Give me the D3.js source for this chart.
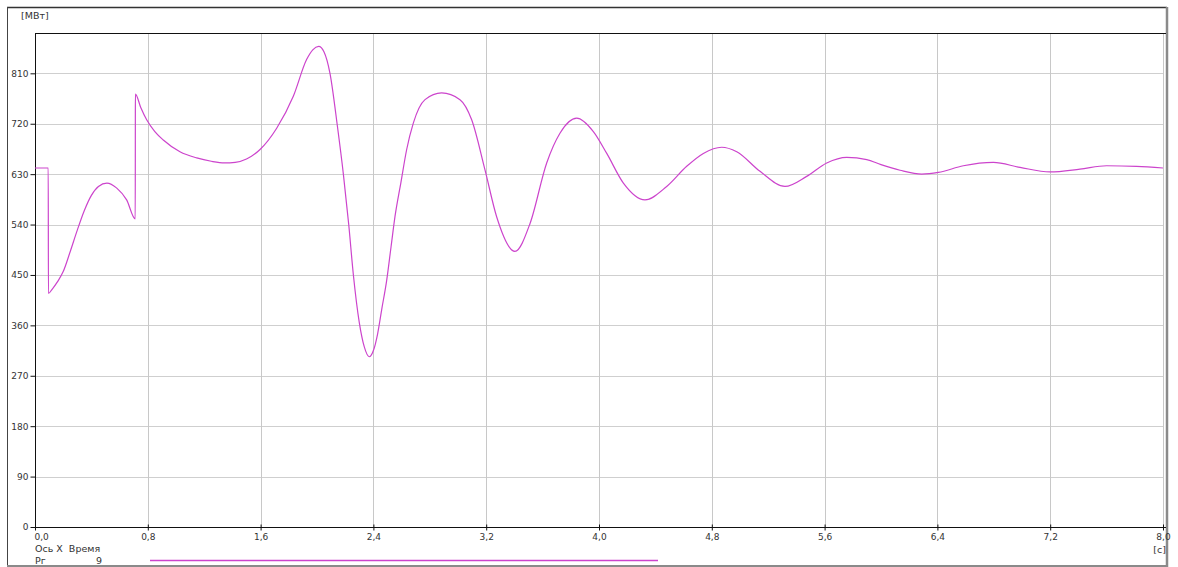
<!DOCTYPE html>
<html>
<head>
<meta charset="utf-8">
<script src="https://cdn.jsdelivr.net/npm/d3@7"></script>
<style>
  body { margin: 0; background: #fff; }
  text { font-family: "DejaVu Sans", Verdana, sans-serif; font-size: 9px; fill: #333; }
</style>
</head>
<body>
<div id="chart"></div>
<script>
// data: time [c] and generator power [МВт]
var timeS = [0, 0.094, 0.095, 0.12, 0.16, 0.2, 0.25, 0.3, 0.35, 0.4,
  0.45, 0.51, 0.58, 0.65, 0.711, 0.712, 0.75, 0.792, 0.85, 0.91,
  1.028, 1.147, 1.25, 1.343, 1.42, 1.5, 1.596, 1.714, 1.832, 1.927,
  1.97, 2.012, 2.05, 2.092, 2.145, 2.187, 2.225, 2.258, 2.3, 2.335,
  2.371, 2.4, 2.43, 2.46, 2.494, 2.525, 2.553, 2.595, 2.636, 2.683,
  2.766, 2.884, 3.014, 3.097, 3.191, 3.274, 3.404, 3.511, 3.629, 3.723,
  3.842, 3.96, 4.055, 4.173, 4.326, 4.48, 4.622, 4.74, 4.87, 4.977,
  5.142, 5.319, 5.473, 5.615, 5.757, 5.899, 6.0, 6.135, 6.289, 6.407,
  6.584, 6.797, 6.986, 7.199, 7.411, 7.6, 7.813, 8.0];
var powerMW = [641, 641, 417, 424, 438, 456, 492, 530, 565, 592,
  608, 614, 605, 584, 550, 773, 749, 727, 706, 691,
  670, 659, 653, 650, 651, 657, 674, 712, 769, 835,
  852, 858, 848, 810, 715, 630, 540, 450, 365, 322,
  304, 315, 345, 390, 440, 500, 554, 615, 674, 721,
  763, 775, 763, 727, 638, 554, 492, 542, 650, 703,
  730, 706, 667, 614, 584, 608, 644, 667, 678, 670,
  635, 608, 626, 650, 660, 656, 647, 637, 630, 633,
  645, 651, 642, 634, 639, 645, 644, 641];

var xTicks = [0, 0.8, 1.6, 2.4, 3.2, 4.0, 4.8, 5.6, 6.4, 7.2, 8.0];
var xTickLabels = ["0,0", "0,8", "1,6", "2,4", "3,2", "4,0", "4,8", "5,6", "6,4", "7,2", "8,0"];
var yTicks = [0, 90, 180, 270, 360, 450, 540, 630, 720, 810];

var seriesName = "Рг";
var seriesNumber = "9";

var W = 1178, H = 567;
var plotL = 35, plotR = 1163, plotT = 33, plotB = 527;
var curveColor = "#cc44cc";

var svg = d3.select("#chart")
  .append("svg")
    .attr("width", W)
    .attr("height", H);

var x = d3.scaleLinear().domain([0, 8]).range([plotL, plotR]);
var y = d3.scaleLinear().domain([0, 882]).range([plotB, plotT]);

// grid
svg.append("g")
  .selectAll("line")
  .data(yTicks.slice(1))
  .enter().append("line")
    .attr("x1", plotL).attr("x2", plotR)
    .attr("y1", function(d) { return Math.round(y(d)) + 0.5; })
    .attr("y2", function(d) { return Math.round(y(d)) + 0.5; })
    .attr("stroke", "#cfcfcf");
svg.append("g")
  .selectAll("line")
  .data(xTicks.slice(1))
  .enter().append("line")
    .attr("x1", function(d) { return Math.round(x(d)) + 0.5; })
    .attr("x2", function(d) { return Math.round(x(d)) + 0.5; })
    .attr("y1", plotT).attr("y2", plotB)
    .attr("stroke", "#c8c8c8");

// outer frame
svg.append("line").attr("x1", 7).attr("x2", 1167).attr("y1", 7.5).attr("y2", 7.5)
  .attr("stroke", "#333").attr("stroke-width", 1.5);
svg.append("line").attr("x1", 7.5).attr("x2", 7.5).attr("y1", 7).attr("y2", 566)
  .attr("stroke", "#444");
svg.append("line").attr("x1", 1167).attr("x2", 1167).attr("y1", 7).attr("y2", 567)
  .attr("stroke", "#8a8a8a").attr("stroke-width", 2.5);
svg.append("line").attr("x1", 7).attr("x2", 1168).attr("y1", 566).attr("y2", 566)
  .attr("stroke", "#8a8a8a").attr("stroke-width", 2);

// plot frame
svg.append("line").attr("x1", plotL).attr("x2", 1166).attr("y1", plotT + 0.5).attr("y2", plotT + 0.5)
  .attr("stroke", "#111");

// y axis
var yAxis = svg.append("g")
  .attr("transform", "translate(" + (plotL + 0.5) + ",0)")
  .call(d3.axisLeft(y).tickValues(yTicks).tickSize(5).tickPadding(2));
yAxis.attr("font-family", null).attr("font-size", null);
yAxis.select(".domain").remove();
yAxis.selectAll(".tick line").attr("stroke", "#111");
yAxis.selectAll("text").attr("fill", "#333");
svg.append("line").attr("x1", plotL + 0.5).attr("x2", plotL + 0.5).attr("y1", plotT).attr("y2", plotB + 1)
  .attr("stroke", "#111");

// x axis
var xAxis = svg.append("g")
  .attr("transform", "translate(0," + (plotB + 0.5) + ")")
  .call(d3.axisBottom(x).tickValues(xTicks)
    .tickFormat(function(d, i) { return xTickLabels[i]; })
    .tickSize(3).tickPadding(3));
xAxis.attr("font-family", null).attr("font-size", null);
xAxis.select(".domain").remove();
xAxis.selectAll(".tick line").attr("y1", -3).attr("stroke", "#111");
xAxis.selectAll("text").attr("fill", "#333");
xAxis.select(".tick text").attr("text-anchor", "start").attr("x", -1);
svg.append("line").attr("x1", plotL).attr("x2", 1166).attr("y1", plotB + 0.5).attr("y2", plotB + 0.5)
  .attr("stroke", "#111");

// units
svg.append("text").attr("x", 21).attr("y", 19).style("font-size", "9.5px").text("[МВт]");
svg.append("text").attr("x", 1166).attr("y", 553).attr("text-anchor", "end")
  .style("font-size", "9.5px").text("[с]");

// legend
svg.append("text").attr("x", 35).attr("y", 552)
  .style("white-space", "pre").style("font-size", "9.5px")
  .text("Ось X  Время");
svg.append("text").attr("x", 35).attr("y", 564).style("font-size", "9.5px").text(seriesName);
svg.append("text").attr("x", 96).attr("y", 564).style("font-size", "9.5px").text(seriesNumber);
svg.append("line").attr("x1", 150).attr("x2", 658).attr("y1", 560.5).attr("y2", 560.5)
  .attr("stroke", curveColor).attr("stroke-width", 1.3);

// curve
var line = d3.line()
  .x(function(d, i) { return x(timeS[i]); })
  .y(function(d) { return y(d); })
  .curve(d3.curveMonotoneX);

svg.append("path")
  .attr("d", line(powerMW))
  .attr("fill", "none")
  .attr("stroke", curveColor)
  .attr("stroke-width", 1.2);
</script>
</body>
</html>
